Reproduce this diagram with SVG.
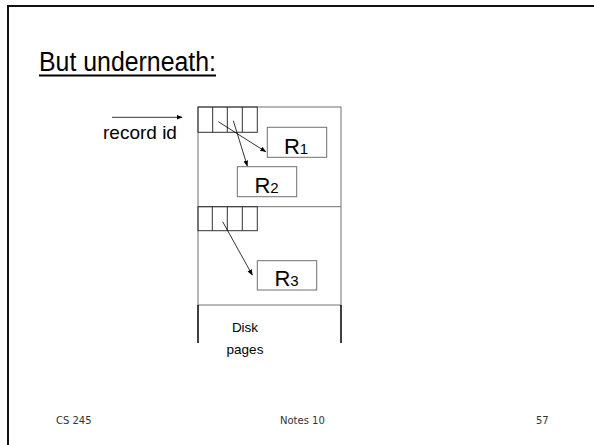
<svg xmlns="http://www.w3.org/2000/svg" width="594" height="445" viewBox="0 0 594 445">
<defs>
<marker id="ah" viewBox="0 0 10 10" refX="9" refY="5" markerWidth="6" markerHeight="6" markerUnits="userSpaceOnUse" orient="auto">
<path d="M0,1 L10,5 L0,9 z" fill="#000"/>
</marker>
<style>
.t{font-family:"Liberation Sans",Arial,sans-serif;fill:#000}
.ft{font-family:"DejaVu Sans","Liberation Sans",sans-serif;font-size:10px;fill:#333}
.box{fill:#fff;stroke:#707070;stroke-width:1}
.cell{fill:none;stroke:#333;stroke-width:1}
.con{stroke:#000;stroke-width:0.8;fill:none;marker-end:url(#ah)}
</style>
</defs>
<rect width="594" height="445" fill="#fff"/>
<path d="M8,445 V6 H594" fill="none" stroke="#111" stroke-width="2"/>
<text class="t" x="39" y="71" font-size="27" textLength="177" lengthAdjust="spacingAndGlyphs">But underneath:</text>
<line x1="39" y1="75.5" x2="216" y2="75.5" stroke="#000" stroke-width="2"/>

<g id="pages">
<rect class="box" x="198" y="107" width="143" height="198"/>
<line x1="198" y1="206.7" x2="341" y2="206.7" stroke="#707070" stroke-width="1"/>
<line x1="198" y1="305" x2="198" y2="343" stroke="#000" stroke-width="1.5"/>
<line x1="341" y1="305" x2="341" y2="343" stroke="#000" stroke-width="1.5"/>
<text class="t" x="245" y="332" font-size="13.5" text-anchor="middle">Disk</text>
<text class="t" x="245" y="353.5" font-size="13.5" text-anchor="middle">pages</text>
</g>

<g id="slots1">
<rect class="cell" x="198" y="107" width="59.3" height="25.3"/>
<path class="cell" d="M212.7,107 V132.3 M227.3,107 V132.3 M242.3,107 V132.3"/>
</g>
<g id="slots2">
<rect class="cell" x="198" y="206.7" width="59.3" height="24"/>
<path class="cell" d="M212.3,206.7 V230.7 M227.3,206.7 V230.7 M242.3,206.7 V230.7"/>
</g>

<g id="R1">
<rect class="box" x="267.3" y="127.3" width="59.4" height="30"/>
<text class="t" x="296" y="154" font-size="22" text-anchor="middle">R<tspan font-size="15">1</tspan></text>
</g>
<g id="R2">
<rect class="box" x="237.3" y="166.7" width="59.4" height="30"/>
<text class="t" x="266.5" y="193" font-size="22" text-anchor="middle">R<tspan font-size="15">2</tspan></text>
</g>
<g id="R3">
<rect class="box" x="257.3" y="260.7" width="59.4" height="29.3"/>
<text class="t" x="286.5" y="285.5" font-size="22" text-anchor="middle">R<tspan font-size="15">3</tspan></text>
</g>

<g id="recordid">
<text class="t" x="103" y="139" font-size="19">record id</text>
</g>

<g id="connectors">
<line class="con" x1="112" y1="117.3" x2="182" y2="117.3"/>
<line class="con" x1="218.3" y1="121.7" x2="265.7" y2="151.7"/>
<line class="con" x1="233.3" y1="120.7" x2="247.3" y2="166"/>
<line class="con" x1="222.7" y1="221.7" x2="252.3" y2="275"/>
</g>

<text class="ft" x="56" y="424">CS 245</text>
<text class="ft" x="280" y="424">Notes 10</text>
<text class="ft" x="536" y="424">57</text>
</svg>
